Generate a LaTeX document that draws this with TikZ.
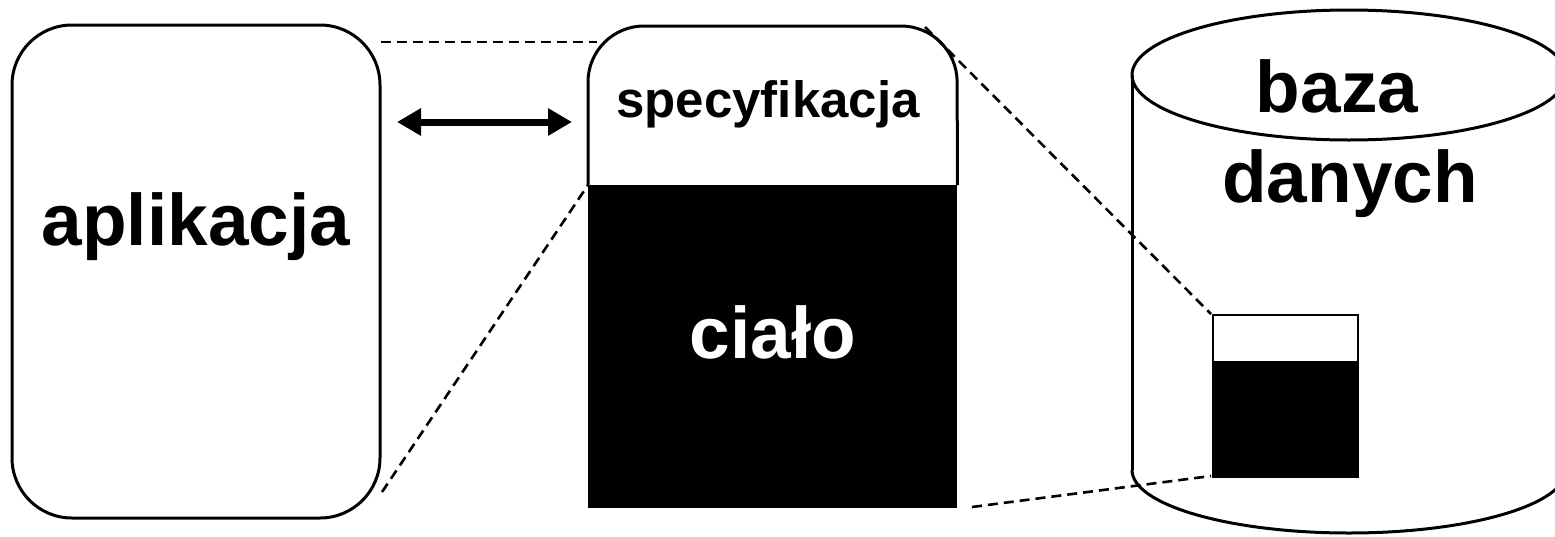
\documentclass[tikz,border=0pt]{standalone}
\usepackage{fontspec}
\setmainfont{Liberation Sans}
\usetikzlibrary{arrows.meta,shapes.geometric}
\begin{document}
\begin{tikzpicture}[x=1pt,y=-1pt,
  outline/.style={line width=3pt, line join=round},
  guide/.style={line width=2.6pt, dash pattern=on 10pt off 6pt},
  big/.style={font=\fontsize{73}{80}\selectfont\bfseries, inner sep=0pt, anchor=base},
]
\clip (0,0) rectangle (1555,536);
\fill[white] (0,0) rectangle (1555,536);

% left box
\node[outline, draw, rectangle, rounded corners=60pt, minimum width=368pt, minimum height=493pt, inner sep=0pt] (app) at (196,271.5) {};
\node[big] (tapp) at (196,245) {aplikacja};

% middle box
\node[fill=black, rectangle, minimum width=369pt, minimum height=323pt, inner sep=0pt, anchor=north west] (body) at (588,185) {};
\draw[outline, rounded corners=56pt] (body.north west) -- (588,26) -- (957,26) -- (body.north east);
\node[font=\fontsize{51}{56}\selectfont\bfseries, inner sep=0pt, anchor=base] (tspec) at (768,117) {specyfikacja};
\node[big, text=white] (tbody) at (773,358) {ciało};

% cylinder
\draw[outline] (1132,75) -- (1132,470);
\begin{scope}
  \clip (1100,470) rectangle (1600,540);
  \draw[outline] (1349,470) ellipse [x radius=217pt, y radius=63pt];
\end{scope}
\node[outline, draw, ellipse, minimum width=434pt, minimum height=130pt, inner sep=0pt] (dbtop) at (1349,75) {};
\node[big] (tbaza) at (1337,112) {baza};
\node[big] (tdan) at (1350,202) {danych};

% small stored unit
\node[draw, line width=2.4pt, rectangle, minimum width=145pt, minimum height=162pt, inner sep=0pt, anchor=north west] (unit) at (1212,314) {};
\fill (1212,361) rectangle (1357,476);

% arrow
\coordinate (arrL) at (397,122);
\coordinate (arrR) at (572,122);
\draw[line width=7pt, {Triangle[length=24pt,width=26pt]}-{Triangle[length=24pt,width=26pt]}] (arrL) -- (arrR);

% dashed guides
\coordinate (g1a) at (381,42);  \coordinate (g1b) at (597,42);
\coordinate (g2a) at (382,492); \coordinate (g2b) at (588,185);
\coordinate (g3a) at (925,27);  \coordinate (g3b) at (1211,314);
\coordinate (g4a) at (972,507); \coordinate (g4b) at (1211,476);
\draw[guide] (g1a) -- (g1b);
\draw[guide] (g2a) -- (g2b);
\draw[guide] (g3a) -- (g3b);
\draw[guide] (g4a) -- (g4b);
\end{tikzpicture}
\end{document}
